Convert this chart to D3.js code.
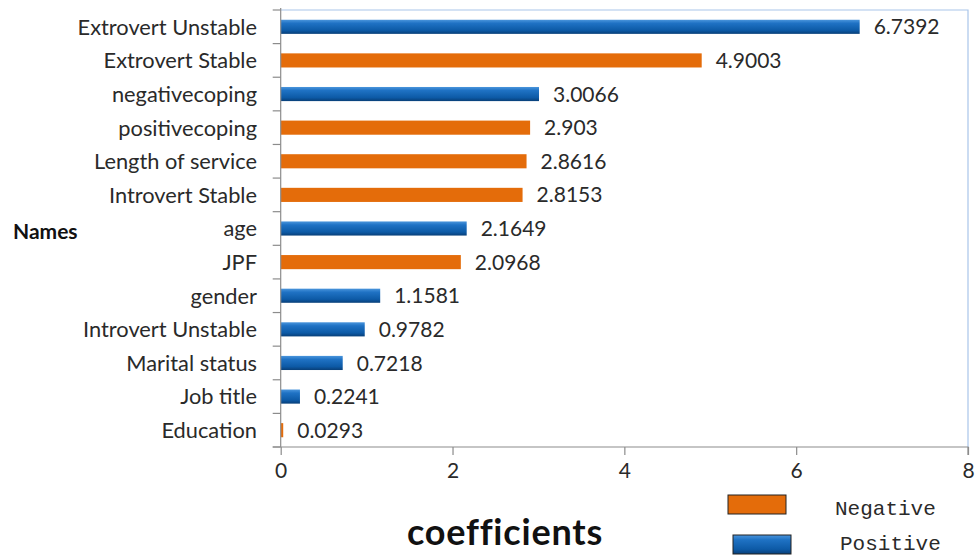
<!DOCTYPE html>
<html>
<head>
<meta charset="utf-8">
<script src="https://cdn.jsdelivr.net/npm/d3@7"></script>
<style>
  html, body { margin: 0; padding: 0; background: #fff; }
  svg { display: block; }
</style>
</head>
<body>
<svg id="chart" width="975" height="555"></svg>
<script>
// Regression coefficients by variable, top to bottom
const names = [
  "Extrovert Unstable", "Extrovert Stable", "negativecoping", "positivecoping",
  "Length of service", "Introvert Stable", "age", "JPF", "gender",
  "Introvert Unstable", "Marital status", "Job title", "Education"
];
const coefficients = [
  6.7392, 4.9003, 3.0066, 2.903, 2.8616, 2.8153, 2.1649, 2.0968, 1.1581,
  0.9782, 0.7218, 0.2241, 0.0293
];
const signs = [
  "Positive", "Negative", "Positive", "Negative", "Negative", "Negative",
  "Positive", "Negative", "Positive", "Positive", "Positive", "Positive", "Negative"
];
const xTicks = [0, 2, 4, 6, 8];
const legendKeys = ["Negative", "Positive"];

const svg = d3.select("#chart");
const plotLeft = 280.7, plotRight = 968, plotTop = 10, plotBottom = 447;
const sans = "Lato, 'Open Sans', sans-serif";

const x = d3.scaleLinear().domain([0, 8]).range([plotLeft, plotRight]);
const y = d3.scaleBand().domain(names).range([plotTop, plotBottom]).paddingInner(0.58).paddingOuter(0.29);
const yEdges = d3.scaleBand().domain(names).range([plotTop, plotBottom]);

const defs = svg.append("defs");
const blueGrad = defs.append("linearGradient").attr("id", "blueGrad")
  .attr("x1", 0).attr("y1", 0).attr("x2", 0).attr("y2", 1);
blueGrad.append("stop").attr("offset", "0%").attr("stop-color", "#4a95dc");
blueGrad.append("stop").attr("offset", "25%").attr("stop-color", "#1f72c4");
blueGrad.append("stop").attr("offset", "75%").attr("stop-color", "#0d5aa6");
blueGrad.append("stop").attr("offset", "100%").attr("stop-color", "#083f78");

const fill = s => s === "Positive" ? "url(#blueGrad)" : "#e46c0a";

// Plot frame (top and right)
svg.append("path")
  .attr("d", `M${plotLeft},${plotTop}H${plotRight}V${plotBottom}`)
  .attr("fill", "none").attr("stroke", "#a9c5ea").attr("stroke-width", 1.2);

// Bars
svg.append("g").selectAll("rect").data(names).join("rect")
  .attr("x", x(0))
  .attr("y", d => y(d))
  .attr("width", (d, i) => x(coefficients[i]) - x(0))
  .attr("height", y.bandwidth())
  .attr("fill", (d, i) => fill(signs[i]));

// Value labels
svg.append("g").selectAll("text").data(names).join("text")
  .attr("x", (d, i) => x(coefficients[i]) + 14)
  .attr("y", d => y(d) + y.bandwidth() / 2)
  .attr("dy", "0.36em")
  .attr("font-family", sans)
  .attr("font-size", 21)
  .attr("fill", "#2a2a2a")
  .text((d, i) => coefficients[i]);

// Left axis with ticks between categories
const yAxisG = svg.append("g");
yAxisG.append("line").attr("x1", plotLeft).attr("x2", plotLeft).attr("y1", plotTop - 2).attr("y2", plotBottom)
  .attr("stroke", "#8c8c8c").attr("stroke-width", 1.2);
yAxisG.selectAll("line.tk").data(names.concat(["_end"])).join("line").attr("class", "tk")
  .attr("x1", plotLeft - 8).attr("x2", plotLeft)
  .attr("y1", d => d === "_end" ? plotBottom : yEdges(d))
  .attr("y2", d => d === "_end" ? plotBottom : yEdges(d))
  .attr("stroke", "#8c8c8c").attr("stroke-width", 1.2);
yAxisG.selectAll("text").data(names).join("text")
  .attr("x", 257).attr("text-anchor", "end")
  .attr("y", d => y(d) + y.bandwidth() / 2)
  .attr("dy", "0.36em")
  .attr("font-family", sans)
  .attr("font-size", 21.8)
  .attr("fill", "#2a2a2a")
  .text(d => d);

// Bottom axis
const xAxis = d3.axisBottom(x).tickValues(xTicks).tickSize(8).tickPadding(8).tickFormat(d3.format("d"));
const xAxisG = svg.append("g").attr("transform", `translate(0,${plotBottom})`).call(xAxis);
xAxisG.select(".domain").attr("stroke", "#8c8c8c").attr("stroke-width", 1.2)
  .attr("d", `M${plotLeft - 8},0H${plotRight}V8`);
xAxisG.selectAll(".tick line").attr("stroke", "#8c8c8c").attr("stroke-width", 1.2);
xAxisG.selectAll(".tick text")
  .attr("font-family", sans)
  .attr("font-size", 21).attr("fill", "#2a2a2a");

// Axis titles
svg.append("text").attr("x", 13).attr("y", 231).attr("dy", "0.36em")
  .attr("font-family", sans).attr("font-weight", "bold")
  .attr("font-size", 21).attr("fill", "#111").text("Names");

svg.append("text").attr("x", 505).attr("y", 545).attr("text-anchor", "middle")
  .attr("font-family", sans).attr("font-weight", "bold")
  .attr("font-size", 36).attr("letter-spacing", 0.8)
  .style("font-variant-ligatures", "none")
  .attr("fill", "#111").text("coefficients");

// Legend
const legend = svg.append("g");
const legendRows = [
  { key: legendKeys[0], rx: 728, ry: 495, tx: 835, ty: 507 },
  { key: legendKeys[1], rx: 733, ry: 535, tx: 840, ty: 542 }
];
legend.selectAll("rect").data(legendRows).join("rect")
  .attr("x", d => d.rx).attr("y", d => d.ry)
  .attr("width", 58).attr("height", 19)
  .attr("fill", d => fill(d.key))
  .attr("stroke", "#222").attr("stroke-width", 1);
legend.selectAll("text").data(legendRows).join("text")
  .attr("x", d => d.tx).attr("y", d => d.ty).attr("dy", "0.36em")
  .attr("font-family", "'Liberation Mono', 'DejaVu Sans Mono', monospace")
  .attr("font-size", 21).attr("fill", "#2a2a2a")
  .text(d => d.key);
</script>
</body>
</html>
